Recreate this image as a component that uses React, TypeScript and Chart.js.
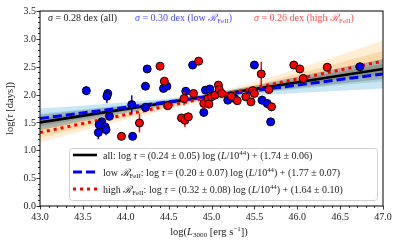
import React, { useEffect, useRef } from 'react';
import { Chart, registerables } from 'chart.js';
Chart.register(...registerables);

// ---- data: low R_FeII sample (blue) ----
const lowX = [43.54, 43.79, 43.78, 44.25, 44.23, 44.44, 44.48, 44.07, 43.81, 44.23, 43.72, 43.69, 43.76, 43.68, 43.77, 44.08, 44.70, 44.78, 44.91, 44.93, 44.98, 45.19, 45.27, 45.50, 45.59, 45.65, 45.69, 46.73];
const lowY = [2.07, 2.02, 1.97, 2.46, 2.15, 2.11, 2.15, 1.82, 1.61, 1.77, 1.51, 1.46, 1.42, 1.32, 1.37, 1.25, 2.06, 2.53, 1.68, 2.08, 2.10, 1.90, 1.93, 2.53, 1.90, 1.84, 1.51, 2.50];
const lowErr = [0.08, 0.06, 0.12, 0.03, 0.04, 0.04, 0.04, 0.17, 0.05, 0.05, 0.05, 0.1, 0.1, 0.12, 0.1, 0.06, 0.07, 0.03, 0.08, 0.04, 0.04, 0.07, 0.04, 0.03, 0.08, 0.08, 0.07, 0.03];

// ---- data: high R_FeII sample (red) ----
const highX = [44.40, 44.45, 44.49, 44.16, 43.95, 44.68, 44.79, 44.85, 44.65, 44.69, 44.73, 44.91, 44.96, 45.00, 45.04, 45.08, 45.09, 45.12, 45.23, 45.30, 45.40, 45.46, 45.48, 45.50, 45.58, 45.67, 45.70, 45.96, 46.03, 46.07, 46.35, 44.97];
const highY = [2.51, 2.24, 1.80, 1.49, 1.25, 1.93, 2.02, 2.60, 1.58, 1.54, 1.60, 1.84, 1.93, 1.96, 1.99, 2.17, 2.09, 2.02, 1.97, 1.89, 1.96, 1.87, 2.07, 2.02, 2.37, 2.09, 1.78, 2.53, 2.46, 2.29, 2.49, 1.83];
const highErr = [0.03, 0.05, 0.03, 0.17, 0.06, 0.12, 0.04, 0.03, 0.06, 0.12, 0.08, 0.1, 0.05, 0.04, 0.05, 0.04, 0.05, 0.05, 0.04, 0.05, 0.05, 0.05, 0.04, 0.04, 0.22, 0.04, 0.08, 0.03, 0.03, 0.04, 0.03, 0.08];

// ---- fits: all, low, high ----
const fitSlope = [0.24, 0.20, 0.32];
const fitSlopeErr = [0.05, 0.07, 0.08];
const fitIntercept = [1.74, 1.77, 1.64];
const fitInterceptErr = [0.06, 0.07, 0.10];
const fitSigma = [0.28, 0.30, 0.26];
const fitPivot = 44;
const fitRange = [43, 47];

// ---- confidence band half-widths ----
const bandX = [43, 43.5, 44, 44.5, 45, 45.5, 46, 46.5, 47];
const allBandHalf = [0.14, 0.10, 0.07, 0.045, 0.04, 0.06, 0.10, 0.14, 0.18];
const lowBandHalf = [0.18, 0.13, 0.09, 0.06, 0.06, 0.09, 0.14, 0.20, 0.26];
const highBandHalf = [0.18, 0.13, 0.09, 0.06, 0.06, 0.10, 0.18, 0.27, 0.37];

// ---- tick labels ----
const xTickVals = [43.0, 43.5, 44.0, 44.5, 45.0, 45.5, 46.0, 46.5, 47.0];
const yTickVals = [0.0, 0.5, 1.0, 1.5, 2.0, 2.5, 3.0, 3.5];
const xMin = 43, xMax = 47;
const yMin = 0, yMax = 3.5;

const FONT = '"Liberation Serif", "DejaVu Serif", serif';
const BLUE_TXT = '#4a4aff';
const RED_TXT = '#ff4a4a';
const TXT = '#222';

type Seg = { t: string; s?: 'i' | 'sub' | 'sup' };

function fontFor(s: Seg['s'], size: number) {
  const sz = s === 'sub' || s === 'sup' ? size * 0.68 : size;
  return `${s === 'i' ? 'italic ' : ''}${sz}px ${FONT}`;
}
function richWidth(ctx: CanvasRenderingContext2D, segs: Seg[], size: number) {
  let w = 0;
  for (const sg of segs) { ctx.font = fontFor(sg.s, size); w += ctx.measureText(sg.t).width; }
  return w;
}
function drawRich(ctx: CanvasRenderingContext2D, segs: Seg[], x: number, y: number, size: number, color: string, align: 'left' | 'center') {
  const w = richWidth(ctx, segs, size);
  let cx = align === 'center' ? x - w / 2 : x;
  ctx.fillStyle = color;
  ctx.textBaseline = 'alphabetic';
  ctx.textAlign = 'left';
  for (const sg of segs) {
    ctx.font = fontFor(sg.s, size);
    const dy = sg.s === 'sub' ? size * 0.22 : sg.s === 'sup' ? -size * 0.38 : 0;
    ctx.fillText(sg.t, cx, y + dy);
    cx += ctx.measureText(sg.t).width;
  }
}

const fmt = (v: number) => v.toFixed(2);
function eqSegs(label: Seg[], i: number): Seg[] {
  return [
    ...label,
    { t: ' log ' }, { t: 'τ', s: 'i' },
    { t: ` = (${fmt(fitSlope[i])} ± ${fmt(fitSlopeErr[i])}) log (` },
    { t: 'L', s: 'i' }, { t: '/10' }, { t: '44', s: 'sup' },
    { t: `) + (${fmt(fitIntercept[i])} ± ${fmt(fitInterceptErr[i])})` },
  ];
}

const pts = (xs: number[], ys: number[]) => xs.map((x, i) => ({ x, y: ys[i] }));
const fitLine = (i: number) => fitRange.map((x) => ({ x, y: fitSlope[i] * (x - fitPivot) + fitIntercept[i] }));
const center = (i: number, x: number) => fitSlope[i] * (x - fitPivot) + fitIntercept[i];
const bandPts = (i: number, half: number[], sign: number, k: number) =>
  bandX.map((x, j) => ({ x, y: center(i, x) + sign * half[j] * k }));

export default function App() {
  const ref = useRef<HTMLCanvasElement | null>(null);
  useEffect(() => {
    document.body.style.margin = '0';
    const canvas = ref.current!;

    const errPlugin = {
      id: 'errbars',
      beforeDatasetDraw(chart: any, args: any) {
        const ds = chart.data.datasets[args.index] as any;
        if (!ds.errs) return;
        const ctx = chart.ctx;
        const xs = chart.scales.x, ys = chart.scales.y;
        ctx.save();
        ctx.beginPath();
        ctx.rect(chart.chartArea.left, chart.chartArea.top, chart.chartArea.right - chart.chartArea.left, chart.chartArea.bottom - chart.chartArea.top);
        ctx.clip();
        ctx.strokeStyle = ds.pointBackgroundColor;
        ctx.lineWidth = 1.5;
        ds.data.forEach((p: any, i: number) => {
          const e = ds.errs[i];
          const px = xs.getPixelForValue(p.x);
          ctx.beginPath();
          ctx.moveTo(px, ys.getPixelForValue(p.y - e));
          ctx.lineTo(px, ys.getPixelForValue(p.y + e));
          ctx.stroke();
        });
        ctx.restore();
      },
    };

    const decoPlugin = {
      id: 'deco',
      afterDraw(chart: any) {
        const ctx: CanvasRenderingContext2D = chart.ctx;
        const { left, right, top, bottom } = chart.chartArea;
        const xs = chart.scales.x, ys = chart.scales.y;
        ctx.save();
        // frame
        ctx.strokeStyle = '#000';
        ctx.lineWidth = 1;
        ctx.strokeRect(left, top, right - left, bottom - top);
        // ticks (outside)
        ctx.lineWidth = 0.8;
        for (let k = 0; k <= Math.round((xMax - xMin) / 0.1); k++) {
          const v = xMin + k * 0.1;
          const major = k % 5 === 0;
          const px = Math.round(xs.getPixelForValue(v)) + 0.5;
          ctx.beginPath();
          ctx.moveTo(px, bottom);
          ctx.lineTo(px, bottom + (major ? 3.5 : 2));
          ctx.stroke();
        }
        for (let k = 0; k <= Math.round((yMax - yMin) / 0.1); k++) {
          const v = yMin + k * 0.1;
          const major = k % 5 === 0;
          const py = Math.round(ys.getPixelForValue(v)) + 0.5;
          ctx.beginPath();
          ctx.moveTo(left, py);
          ctx.lineTo(left - (major ? 3.5 : 2), py);
          ctx.stroke();
        }
        // tick labels
        ctx.fillStyle = TXT;
        ctx.font = `10px ${FONT}`;
        ctx.textBaseline = 'middle';
        ctx.textAlign = 'center';
        xTickVals.forEach((v) => ctx.fillText(v.toFixed(1), xs.getPixelForValue(v), bottom + 11));
        ctx.textAlign = 'right';
        yTickVals.forEach((v) => ctx.fillText(v.toFixed(1), left - 4, ys.getPixelForValue(v) + 0.5));
        // sigma annotations
        const fe: Seg[] = [{ t: 'ℛ', s: 'i' }, { t: 'FeII', s: 'sub' }];
        drawRich(ctx, [{ t: 'σ', s: 'i' }, { t: ` = ${fitSigma[0].toFixed(2)} dex (all)` }], 48, 21, 10, TXT, 'left');
        drawRich(ctx, [{ t: 'σ', s: 'i' }, { t: ` = ${fitSigma[1].toFixed(2)} dex (low ` }, ...fe, { t: ')' }], 135, 21, 10, BLUE_TXT, 'left');
        drawRich(ctx, [{ t: 'σ', s: 'i' }, { t: ` = ${fitSigma[2].toFixed(2)} dex (high ` }, ...fe, { t: ')' }], 254, 21, 10, RED_TXT, 'left');
        // legend
        const bx = 69, by = 148, bw = 308, bh = 52;
        ctx.fillStyle = 'rgba(255,255,255,0.85)';
        ctx.strokeStyle = '#d0d0d0';
        ctx.lineWidth = 1;
        ctx.beginPath();
        ctx.roundRect(bx + 0.5, by + 0.5, bw, bh, 3);
        ctx.fill();
        ctx.stroke();
        const rows = [155, 172, 189];
        const styles = [
          { c: '#000', w: 2.6, d: [] as number[] },
          { c: '#0000ff', w: 3, d: [9, 4] },
          { c: '#ff0000', w: 3, d: [3, 4] },
        ];
        const labels: Seg[][] = [
          [{ t: 'all:' }],
          [{ t: 'low ' }, ...fe, { t: ':' }],
          [{ t: 'high ' }, ...fe, { t: ':' }],
        ];
        rows.forEach((ry, i) => {
          const st = styles[i];
          ctx.strokeStyle = st.c;
          ctx.lineWidth = st.w;
          ctx.setLineDash(st.d);
          ctx.beginPath();
          ctx.moveTo(73, ry);
          ctx.lineTo(97, ry);
          ctx.stroke();
          ctx.setLineDash([]);
          drawRich(ctx, eqSegs(labels[i], i), 103, ry + 3.5, 10, TXT, 'left');
        });
        // axis titles
        drawRich(ctx, [{ t: 'log(' }, { t: 'L', s: 'i' }, { t: '3000', s: 'sub' }, { t: ' [erg s' }, { t: '−1', s: 'sup' }, { t: '])' }], 209, 235, 10.5, TXT, 'center');
        ctx.save();
        ctx.translate(13, (top + bottom) / 2);
        ctx.rotate(-Math.PI / 2);
        drawRich(ctx, [{ t: 'log(' }, { t: 'τ', s: 'i' }, { t: ' [days])' }], 0, 0, 10.5, TXT, 'center');
        ctx.restore();
        ctx.restore();
      },
    };

    const bandDs = (i: number, half: number[], k: number, color: string, order: number, idx: number) => [
      { type: 'line', data: bandPts(i, half, 1, k), borderWidth: 0, pointRadius: 0, fill: { target: idx + 1 }, backgroundColor: color, order },
      { type: 'line', data: bandPts(i, half, -1, k), borderWidth: 0, pointRadius: 0, fill: false, order },
    ];

    const datasets: any[] = [
      { type: 'scatter', data: pts(highX, highY), errs: highErr, pointRadius: 4, pointHoverRadius: 4, pointBackgroundColor: '#ff0000', pointBorderColor: '#000', pointBorderWidth: 1, order: 0 },
      { type: 'scatter', data: pts(lowX, lowY), errs: lowErr, pointRadius: 4, pointHoverRadius: 4, pointBackgroundColor: '#0000ff', pointBorderColor: '#000', pointBorderWidth: 1, order: 1 },
      { type: 'line', data: fitLine(2), borderColor: '#ff0000', borderWidth: 3, borderDash: [3, 4], pointRadius: 0, fill: false, order: 2 },
      { type: 'line', data: fitLine(1), borderColor: '#0000ff', borderWidth: 3, borderDash: [9, 4], pointRadius: 0, fill: false, order: 3 },
      { type: 'line', data: fitLine(0), borderColor: '#000000', borderWidth: 2.6, pointRadius: 0, fill: false, order: 4 },
    ];
    const addBand = (i: number, half: number[], k: number, color: string, order: number) => {
      const idx = datasets.length;
      datasets.push(...bandDs(i, half, k, color, order, idx));
    };
    addBand(0, allBandHalf, 1, 'rgba(110,110,100,0.35)', 10);
    addBand(0, allBandHalf, 0.5, 'rgba(90,90,80,0.3)', 10);
    addBand(1, lowBandHalf, 1, 'rgba(135,200,230,0.45)', 11);
    addBand(1, lowBandHalf, 0.5, 'rgba(120,190,225,0.4)', 11);
    addBand(2, highBandHalf, 1, 'rgba(255,190,100,0.28)', 12);
    addBand(2, highBandHalf, 0.5, 'rgba(240,175,90,0.35)', 12);

    const chart = new Chart(canvas, {
      type: 'scatter',
      data: { datasets },
      options: {
        animation: false,
        responsive: false,
        devicePixelRatio: 1,
        layout: { padding: { left: 0, right: 16, top: 11, bottom: 0 } },
        plugins: { legend: { display: false }, tooltip: { enabled: false }, filler: { propagate: false } },
        scales: {
          x: {
            type: 'linear', min: xMin, max: xMax,
            grid: { display: false }, border: { display: false },
            ticks: { display: false },
            afterFit: (s: any) => { s.height = 36; },
          },
          y: {
            type: 'linear', min: yMin, max: yMax,
            grid: { display: false }, border: { display: false },
            ticks: { display: false },
            afterFit: (s: any) => { s.width = 40; },
          },
        },
      } as any,
      plugins: [errPlugin, decoPlugin],
    });
    return () => chart.destroy();
  }, []);
  return (
    <div style={{ width: 399, height: 242 }}>
      <canvas ref={ref} width={399} height={242} />
    </div>
  );
}
